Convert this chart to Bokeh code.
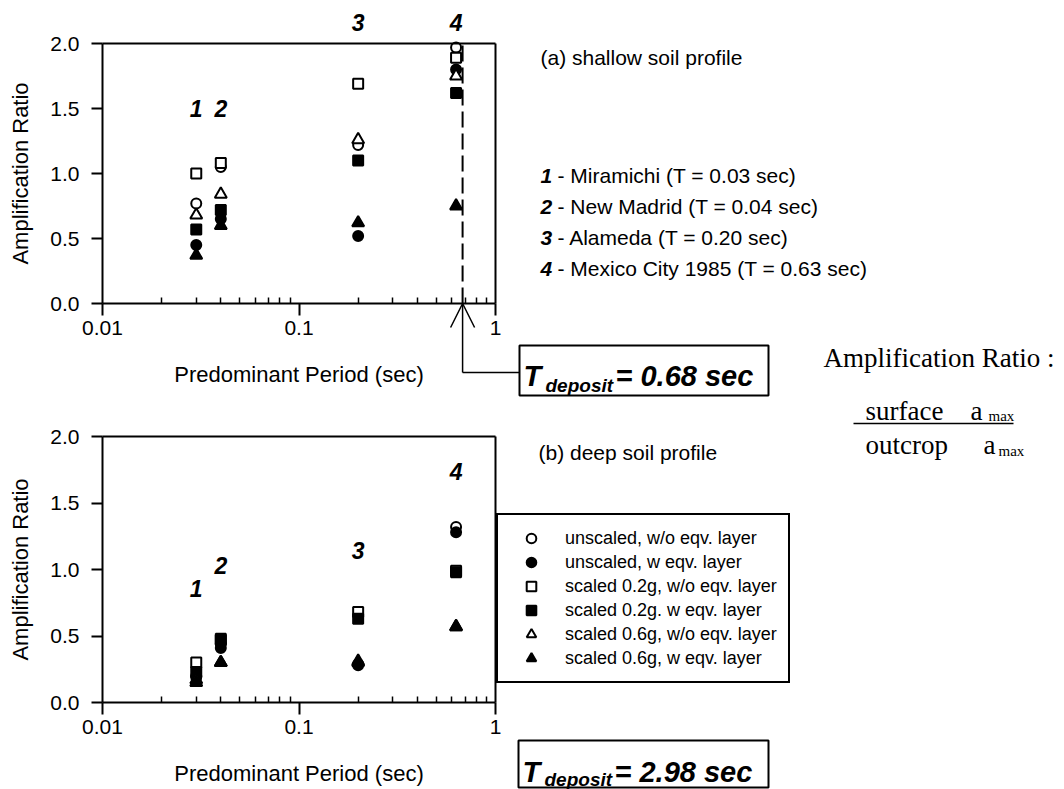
from bokeh.plotting import figure
from bokeh.models import (FixedTicker, Label, Legend, LegendItem, BoxAnnotation,
                          Arrow, OpenHead, PrintfTickFormatter, LogAxis, LinearAxis,
                          LogScale, Range1d)
from bokeh.layouts import column
from bokeh.embed import file_html
from bokeh.resources import INLINE

# ---------------- data ----------------
periods = [0.03, 0.04, 0.20, 0.63]
quake_ids = ["1", "2", "3", "4"]
quake_names = ["Miramichi", "New Madrid", "Alameda", "Mexico City 1985"]

series_labels = ["unscaled, w/o eqv. layer", "unscaled, w eqv. layer",
                 "scaled 0.2g, w/o eqv. layer", "scaled 0.2g. w eqv. layer",
                 "scaled 0.6g, w/o eqv. layer", "scaled 0.6g, w eqv. layer"]

shallow_unscaled_wo = [0.77, 1.05, 1.22, 1.97]
shallow_unscaled_w = [0.45, 0.65, 0.52, 1.80]
shallow_02g_wo = [1.00, 1.08, 1.69, 1.89]
shallow_02g_w = [0.57, 0.72, 1.10, 1.62]
shallow_06g_wo = [0.68, 0.84, 1.26, 1.75]
shallow_06g_w = [0.37, 0.60, 0.62, 0.75]

deep_unscaled_wo = [0.20, 0.44, 0.29, 1.32]
deep_unscaled_w = [0.19, 0.41, 0.28, 1.28]
deep_02g_wo = [0.30, 0.47, 0.68, 0.99]
deep_02g_w = [0.23, 0.48, 0.63, 0.98]
deep_06g_wo = [0.17, 0.30, 0.30, 0.57]
deep_06g_w = [0.15, 0.30, 0.31, 0.57]

tdeposit_shallow = 0.68
tdeposit_deep = 2.98

x_major_ticks = [0.01, 0.1, 1]
x_minor_ticks = [0.02, 0.03, 0.04, 0.05, 0.06, 0.07, 0.08, 0.09,
                 0.2, 0.3, 0.4, 0.5, 0.6, 0.7, 0.8, 0.9]
x_tick_labels = ["0.01", "0.1", "1"]
y_ticks = [0.0, 0.5, 1.0, 1.5, 2.0]

# ---------------- layout constants (page pixels) ----------------
SANS = "Liberation Sans"
SERIF = "Liberation Serif"
W = 1064
TOP_H = 397
BOT_H = 392
X0, XW = 102, 393          # page x of 0.01 and pixel width of two decades
Y0_TOP, PPU_TOP = 303, 130  # page y of 0.0 and px per unit, top panel
Y0_BOT, PPU_BOT = 702, 133  # same, bottom panel (page y)

marker_styles = [("circle", "white"), ("circle", "black"),
                 ("square", "white"), ("square", "black"),
                 ("triangle", "white"), ("triangle", "black")]
marker_sizes = {"circle": 10, "square": 10, "triangle": 12}


def px2x(X):
    return 10 ** (-2 + (X - X0) * 2.0 / XW)


def make_py(y0, ppu):
    return lambda Y: (y0 - Y) / ppu


py_top = make_py(Y0_TOP, PPU_TOP)
py_bot = make_py(Y0_BOT - TOP_H, PPU_BOT)   # bottom figure canvas starts at page y TOP_H


def make_fig(height, py):
    p = figure(width=W, height=height, x_axis_type="log",
               x_range=Range1d(px2x(0), px2x(W)), y_range=Range1d(py(height), py(0)),
               x_axis_location=None, y_axis_location=None, min_border=0,
               output_backend="svg", toolbar_location=None)
    p.x_scale = LogScale()
    p.xgrid.visible = False
    p.ygrid.visible = False
    p.outline_line_color = None
    p.background_fill_color = "white"
    p.border_fill_color = "white"

    xb = (x_major_ticks[0], x_major_ticks[-1])
    yb = (y_ticks[0], y_ticks[-1])

    xa = LogAxis(fixed_location=y_ticks[0], bounds=xb,
                 ticker=FixedTicker(ticks=x_major_ticks, minor_ticks=x_minor_ticks),
                 axis_label="Predominant Period (sec)")
    xa.major_label_overrides = {t: s for t, s in zip(x_major_ticks, x_tick_labels)}
    xa.major_tick_in = 0
    xa.major_tick_out = 12
    xa.minor_tick_in = 6
    xa.minor_tick_out = 0
    xa.major_label_standoff = 5
    xa.axis_label_standoff = 24

    ya = LinearAxis(fixed_location=x_major_ticks[0], bounds=yb,
                    ticker=FixedTicker(ticks=y_ticks),
                    formatter=PrintfTickFormatter(format="%.1f"),
                    axis_label="Amplification Ratio")
    ya.major_tick_in = 0
    ya.major_tick_out = 11
    ya.major_label_standoff = 12
    ya.axis_label_standoff = 14

    for ax in (xa, ya):
        ax.axis_line_color = "black"
        ax.axis_line_width = 2
        ax.major_tick_line_color = "black"
        ax.major_tick_line_width = 2
        ax.minor_tick_line_color = "black" if ax is xa else None
        ax.minor_tick_line_width = 1.5
        ax.major_label_text_font = SANS
        ax.major_label_text_font_size = "21px"
        ax.major_label_text_color = "black"
        ax.axis_label_text_font = SANS
        ax.axis_label_text_font_size = "22px"
        ax.axis_label_text_font_style = "normal"
        ax.axis_label_text_color = "black"
    p.add_layout(xa, "below")
    p.add_layout(ya, "left")

    # closing box lines (top and right)
    ta = LogAxis(fixed_location=y_ticks[-1], bounds=xb, ticker=FixedTicker(ticks=[]))
    ra = LinearAxis(fixed_location=x_major_ticks[-1], bounds=yb, ticker=FixedTicker(ticks=[]))
    for ax in (ta, ra):
        ax.axis_line_color = "black"
        ax.axis_line_width = 2
        ax.major_tick_line_color = None
        ax.minor_tick_line_color = None
        ax.major_label_text_color = None
    p.add_layout(ta, "above")
    p.add_layout(ra, "right")
    return p


def add_series(p, series):
    rends = []
    for vals, (mk, fill) in zip(series, marker_styles):
        r = p.scatter(x=periods, y=vals, marker=mk, size=marker_sizes[mk],
                      fill_color=fill, line_color="black", line_width=2)
        rends.append(r)
    return rends


def text(p, x, y, s, size="21px", font=SANS, style="normal", align="left",
         baseline="middle"):
    p.add_layout(Label(x=x, y=y, text=s, text_font=font, text_font_size=size,
                       text_font_style=style, text_align=align,
                       text_baseline=baseline, text_color="black"))


def ptext(p, py, X, Y, s, **kw):
    text(p, px2x(X), py(Y), s, **kw)


def box(p, py, l, r, t, b):
    p.add_layout(BoxAnnotation(left=px2x(l), right=px2x(r), top=py(t), bottom=py(b),
                               fill_color="white", fill_alpha=1, line_color="black",
                               line_width=2, line_alpha=1))


def hline(p, x0, y0, x1, y1, width=1.5):
    p.add_layout(Arrow(x_start=x0, y_start=y0, x_end=x1, y_end=y1, line_width=width,
                       line_color="black", end=None))


# ================= top figure (shallow) =================
p1 = make_fig(TOP_H, py_top)

p1.line(x=[tdeposit_shallow, tdeposit_shallow], y=[y_ticks[0], y_ticks[-1]],
        line_color="black", line_width=2, line_dash="16 6")

add_series(p1, [shallow_unscaled_wo, shallow_unscaled_w, shallow_02g_wo,
                shallow_02g_w, shallow_06g_wo, shallow_06g_w])

for per, qid, yy in zip(periods, quake_ids, [1.50, 1.50, 2.16, 2.16]):
    text(p1, per, yy, qid, size="23px", style="bold italic", align="center")

ptext(p1, py_top, 540, 57, "(a) shallow soil profile")
for i, (qid, nm, per) in enumerate(zip(quake_ids, quake_names, periods)):
    yy = 175 + 31 * i
    ptext(p1, py_top, 540, yy, qid, style="bold italic")
    ptext(p1, py_top, 557, yy, "- %s (T = %.2f sec)" % (nm, per))

ptext(p1, py_top, 823, 357, "Amplification Ratio :", size="27px", font=SERIF)

# arrow from the T_deposit line down to the box
y_conn = py_top(372)
p1.add_layout(Arrow(x_start=tdeposit_shallow, y_start=y_conn, x_end=tdeposit_shallow,
                    y_end=y_ticks[0], line_width=1.5, line_color="black",
                    end=OpenHead(size=24, line_width=1.5, line_color="black")))
hline(p1, tdeposit_shallow, y_conn, px2x(519), y_conn)

box(p1, py_top, 519, 768, 345, 395)
ptext(p1, py_top, 523, 375, "T", size="29px", style="bold italic", baseline="alphabetic")
ptext(p1, py_top, 545, 385, "deposit", size="19px", style="bold italic", baseline="alphabetic")
ptext(p1, py_top, 615, 375, "= %.2f sec" % tdeposit_shallow, size="29px",
      style="bold italic", baseline="alphabetic")

# ================= bottom figure (deep) =================
p2 = make_fig(BOT_H, py_bot)


def pb(Y):
    return py_bot(Y - TOP_H)


rends = add_series(p2, [deep_unscaled_wo, deep_unscaled_w, deep_02g_wo,
                        deep_02g_w, deep_06g_wo, deep_06g_w])

for per, qid, yy in zip(periods, quake_ids, [0.86, 1.03, 1.14, 1.74]):
    text(p2, per, yy, qid, size="23px", style="bold italic", align="center")

ptext(p2, pb, 538, 452, "(b) deep soil profile")

legend = Legend(items=[LegendItem(label=lab, renderers=[r]) for lab, r in zip(series_labels, rends)],
                location=(496, TOP_H + BOT_H - 683))
legend.label_text_font = SANS
legend.label_text_font_size = "18px"
legend.label_text_color = "black"
legend.glyph_width = 44
legend.glyph_height = 24
legend.label_height = 20
legend.spacing = -1
legend.padding = 11
legend.margin = 0
legend.label_standoff = 12
legend.border_line_color = "black"
legend.border_line_width = 2
legend.border_line_alpha = 1
legend.background_fill_color = "white"
legend.background_fill_alpha = 1
p2.add_layout(legend)

# ratio definition
ptext(p2, pb, 865, 410, "surface", size="27px", font=SERIF)
ptext(p2, pb, 970, 410, "a", size="27px", font=SERIF)
ptext(p2, pb, 988, 415, "max", size="15px", font=SERIF)
hline(p2, px2x(853), pb(423), px2x(1013), pb(423))
ptext(p2, pb, 865, 444, "outcrop", size="27px", font=SERIF)
ptext(p2, pb, 983, 444, "a", size="27px", font=SERIF)
ptext(p2, pb, 998, 450, "max", size="15px", font=SERIF)

box(p2, pb, 518, 768, 740, 787)
ptext(p2, pb, 522, 771, "T", size="29px", style="bold italic", baseline="alphabetic")
ptext(p2, pb, 544, 779, "deposit", size="19px", style="bold italic", baseline="alphabetic")
ptext(p2, pb, 614, 771, "= %.2f sec" % tdeposit_deep, size="29px", style="bold italic",
      baseline="alphabetic")

layout = column(p1, p2, spacing=0)
open("out.html", "w").write(file_html(layout, INLINE))
